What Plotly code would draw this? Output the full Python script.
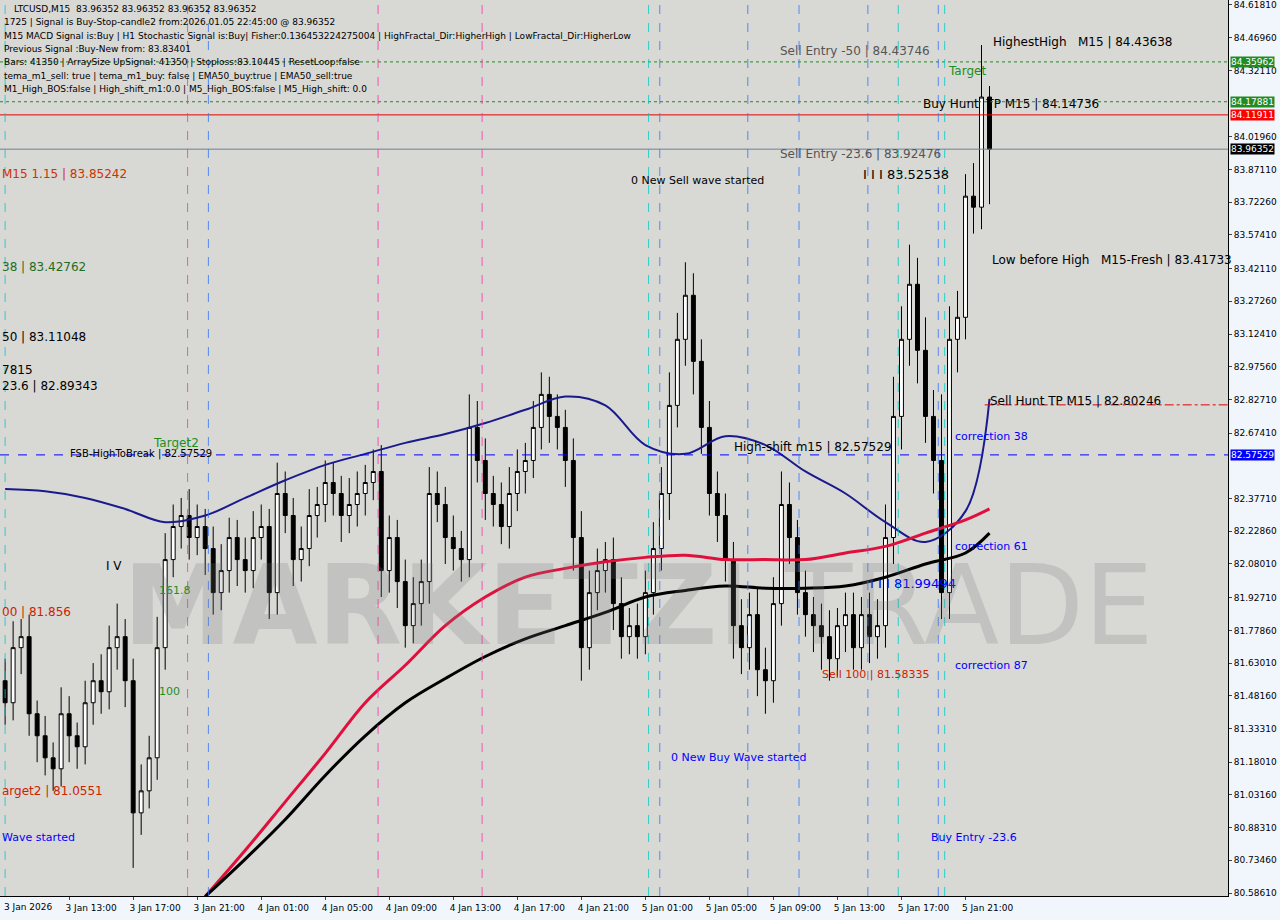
import pandas as pd
import plotly.graph_objects as go

# 30-minute bars, 3 Jan 2026 09:00 .. 5 Jan 22:30
start = pd.Timestamp("2026-01-03 09:00")
closes = [81.45, 81.70, 81.75, 81.40, 81.30, 81.20, 81.15, 81.40, 81.30, 81.25,
          81.45, 81.55, 81.50, 81.70, 81.75, 81.55, 80.95, 81.05, 81.20, 81.70,
          82.10, 82.25, 82.30, 82.20, 82.25, 82.15, 81.95, 82.05, 82.20, 82.10,
          82.05, 82.20, 82.25, 81.95, 82.40, 82.30, 82.10, 82.15, 82.30, 82.35,
          82.45, 82.40, 82.30, 82.35, 82.40, 82.45, 82.50, 82.05, 82.20, 82.00,
          81.80, 81.90, 82.00, 82.40, 82.35, 82.20, 82.15, 82.10, 82.70, 82.55,
          82.40, 82.35, 82.25, 82.40, 82.50, 82.55, 82.70, 82.85, 82.75, 82.70,
          82.55, 82.20, 81.70, 81.95, 82.05, 82.10, 81.90, 81.75, 81.80, 81.75,
          81.95, 82.15, 82.40, 82.80, 83.10, 83.30, 83.00, 82.70, 82.40, 82.30,
          82.10, 81.80, 81.70, 81.85, 81.60, 81.55, 81.90, 82.35, 82.20, 81.95,
          81.85, 81.80, 81.75, 81.65, 81.80, 81.85, 81.70, 81.85, 81.75, 81.80,
          82.20, 82.75, 83.10, 83.35, 83.05, 82.75, 82.55, 81.95, 83.10, 83.20,
          83.75, 83.70, 84.20, 83.96352]
open0 = 81.55
wick_up = [0.10, 0.12, 0.08, 0.10, 0.06, 0.09, 0.07, 0.12, 0.08, 0.06,
           0.10, 0.08, 0.12, 0.10, 0.15, 0.08, 0.10, 0.12, 0.10, 0.14,
           0.12, 0.10, 0.08, 0.12, 0.10, 0.08, 0.10, 0.12, 0.09, 0.08,
           0.10, 0.12, 0.10, 0.08, 0.14, 0.10, 0.08, 0.10, 0.12, 0.08,
           0.10, 0.09, 0.08, 0.12, 0.10, 0.08, 0.10, 0.12, 0.10, 0.08,
           0.10, 0.12, 0.10, 0.12, 0.10, 0.08, 0.10, 0.08, 0.15, 0.12,
           0.10, 0.08, 0.10, 0.12, 0.10, 0.08, 0.12, 0.10, 0.08, 0.10,
           0.08, 0.10, 0.12, 0.10, 0.10, 0.08, 0.10, 0.12, 0.08, 0.10,
           0.10, 0.12, 0.12, 0.15, 0.12, 0.15, 0.10, 0.10, 0.12, 0.10,
           0.10, 0.08, 0.12, 0.10, 0.12, 0.10, 0.12, 0.15, 0.10, 0.08,
           0.10, 0.08, 0.10, 0.12, 0.08, 0.10, 0.10, 0.08, 0.10, 0.12,
           0.15, 0.18, 0.15, 0.18, 0.12, 0.15, 0.12, 0.30, 0.15, 0.12,
           0.10, 0.15, 0.24, 0.05]
wick_dn = [0.10, 0.08, 0.12, 0.10, 0.12, 0.08, 0.10, 0.08, 0.12, 0.10,
           0.08, 0.10, 0.10, 0.08, 0.10, 0.12, 0.25, 0.10, 0.08, 0.10,
           0.10, 0.08, 0.10, 0.10, 0.08, 0.12, 0.10, 0.08, 0.10, 0.12,
           0.10, 0.08, 0.10, 0.12, 0.10, 0.08, 0.12, 0.10, 0.08, 0.10,
           0.08, 0.10, 0.12, 0.08, 0.10, 0.10, 0.08, 0.12, 0.10, 0.12,
           0.10, 0.08, 0.10, 0.10, 0.08, 0.12, 0.10, 0.10, 0.08, 0.10,
           0.12, 0.10, 0.08, 0.10, 0.08, 0.10, 0.08, 0.10, 0.12, 0.10,
           0.12, 0.15, 0.15, 0.10, 0.08, 0.10, 0.12, 0.10, 0.08, 0.10,
           0.08, 0.10, 0.10, 0.12, 0.10, 0.12, 0.15, 0.12, 0.10, 0.12,
           0.10, 0.15, 0.12, 0.10, 0.12, 0.15, 0.10, 0.10, 0.12, 0.10,
           0.10, 0.12, 0.15, 0.10, 0.08, 0.12, 0.10, 0.10, 0.12, 0.10,
           0.10, 0.12, 0.15, 0.12, 0.15, 0.12, 0.15, 0.12, 0.12, 0.15,
           0.10, 0.12, 0.10, 0.25]

# moving averages, one value every 2.5 hours (5 bars), from 3 Jan 09:00; last = last bar
ma_blue = [82.42, 82.41, 82.38, 82.33, 82.27, 82.30, 82.38, 82.46, 82.53,
           82.58, 82.63, 82.67, 82.72, 82.78, 82.84, 82.80, 82.62, 82.58,
           82.66, 82.62, 82.50, 82.40, 82.27, 82.18, 82.32, 82.83]
ma_red = [None, None, None, None, None, 80.57, 80.78, 81.00, 81.22, 81.45,
          81.62, 81.80, 81.93, 82.02, 82.06, 82.09, 82.11, 82.12, 82.10,
          82.10, 82.10, 82.13, 82.16, 82.22, 82.28, 82.33]
ma_black = [None, None, None, None, None, 80.57, 80.74, 80.92, 81.12, 81.30,
            81.45, 81.56, 81.66, 81.74, 81.80, 81.86, 81.93, 81.96, 81.98,
            81.97, 81.97, 81.98, 82.02, 82.08, 82.13, 82.22]

# horizontal levels: price, colour, dash
levels = [(84.35962, "#1e8f1e", "dot"), (84.17881, "#1e8f1e", "dot"),
          (84.11911, "#e00000", "solid"), (83.96352, "#708090", "solid"),
          (82.57529, "#0000ff", "dash")]
axis_boxes = [(84.35962, "#228b22"), (84.17881, "#228b22"), (84.11911, "#ff0000"),
              (83.96352, "#000000"), (82.57529, "#0000ff")]
yticks = [84.61810, 84.46960, 84.32110, 84.01960, 83.87110, 83.72260, 83.57410,
          83.42110, 83.27260, 83.12410, 82.97560, 82.82710, 82.67410, 82.37710,
          82.22860, 82.08010, 81.92710, 81.77860, 81.63010, 81.48160, 81.33310,
          81.18010, 81.03160, 80.88310, 80.73460, 80.58610]

# vertical markers: hours after start, colour
vlines = [(0.0, "#00cccc"), (11.4, "#ff33aa"), (12.7, "#3377ff"), (23.3, "#ff33aa"),
          (29.8, "#ff33aa"), (40.2, "#00cccc"), (40.9, "#3377ff"), (46.4, "#3377ff"),
          (49.6, "#3377ff"), (53.9, "#3377ff"), (55.8, "#00cccc"), (58.3, "#3377ff"),
          (58.7, "#00cccc")]

times = [start + pd.Timedelta(minutes=30 * i) for i in range(len(closes))]
opens = [open0] + closes[:-1]
highs = [max(o, c) + w for o, c, w in zip(opens, closes, wick_up)]
lows = [min(o, c) - w for o, c, w in zip(opens, closes, wick_dn)]
highs[122] = 84.43638
ma_times = [start + pd.Timedelta(minutes=150 * i) for i in range(len(ma_blue))]
ma_times[-1] = times[-1]


def t_at(h):
    return start + pd.Timedelta(hours=h)


fig = go.Figure()
fig.add_trace(go.Candlestick(
    x=times, open=opens, high=highs, low=lows, close=closes,
    increasing=dict(line=dict(color="black", width=1), fillcolor="white"),
    decreasing=dict(line=dict(color="black", width=1), fillcolor="black"),
    whiskerwidth=0, showlegend=False))
for ys, col, w in [(ma_blue, "#1a1a8c", 2), (ma_red, "#e0103c", 3), (ma_black, "black", 3)]:
    fig.add_trace(go.Scatter(x=ma_times, y=ys, mode="lines", line=dict(color=col, width=w, shape="spline"),
                             showlegend=False, hoverinfo="skip"))

for p, col, dash in levels:
    fig.add_hline(y=p, line=dict(color=col, width=1, dash=dash))
fig.add_shape(type="line", xref="x", x0=t_at(61.2), x1=t_at(80), y0=82.80246, y1=82.80246,
              line=dict(color="#e00000", width=1, dash="dashdot"))
for h, col in vlines:
    fig.add_vline(x=t_at(h), line=dict(color=col, width=1, dash="dash"), opacity=0.8)

for p, col in axis_boxes:
    fig.add_annotation(xref="paper", x=1.0, y=p, text=f"{p:.5f}", showarrow=False, xanchor="left",
                       xshift=2, bgcolor=col, font=dict(color="white", size=9), borderpad=0)

labels = [
    (61.6, 84.45, "HighestHigh   M15 | 84.43638", "black", 12),
    (48.3, 84.41, "Sell Entry -50 | 84.43746", "#555555", 12),
    (57.2, 84.17, "Buy Hunt  TP M15 | 84.14736", "black", 12),
    (48.3, 83.94, "Sell Entry -23.6 | 83.92476", "#555555", 12),
    (53.5, 83.85, "I I I 83.52538", "black", 13),
    (39.0, 83.82, "0 New Sell wave started", "black", 11),
    (61.5, 83.46, "Low before High   M15-Fresh | 83.41733", "black", 12),
    (61.4, 82.82, "Sell Hunt TP M15 | 82.80246", "black", 12),
    (45.4, 82.61, "High-shift m15 | 82.57529", "black", 12),
    (59.2, 82.66, "correction 38", "#0000ff", 11),
    (59.2, 82.16, "correction 61", "#0000ff", 11),
    (59.2, 81.62, "correction 87", "#0000ff", 11),
    (53.9, 81.99, "I I I 81.99494", "#0000ff", 13),
    (50.9, 81.58, "Sell 100 | 81.58335", "#cc2200", 11),
    (41.5, 81.20, "0 New Buy Wave started", "#0000ff", 11),
    (57.7, 80.84, "Buy Entry -23.6", "#0000ff", 11),
    (-0.3, 83.85, "M15 1.15 | 83.85242", "#cc3300", 12),
    (-0.3, 83.43, "38 | 83.42762", "#1e6e1e", 12),
    (-0.3, 83.11, "50 | 83.11048", "black", 12),
    (-0.3, 82.96, "7815", "black", 12),
    (-0.3, 82.89, "23.6 | 82.89343", "black", 12),
    (3.9, 82.58, "FSB-HighToBreak | 82.57529", "black", 10),
    (9.1, 82.63, "Target2", "#1e8f1e", 12),
    (-0.3, 81.86, "00 | 81.856", "#cc2200", 12),
    (-0.3, 81.05, "arget2 | 81.0551", "#cc2200", 12),
    (-0.3, 80.84, "Wave started", "#0000ff", 11),
    (9.5, 81.96, "161.8", "#1e8f1e", 11),
    (9.5, 81.50, "100", "#1e8f1e", 11),
    (6.2, 82.07, "I V", "black", 12),
    (58.8, 84.32, "Target", "#1e8f1e", 12),
]
for h, p, txt, col, sz in labels:
    fig.add_annotation(x=t_at(h), y=p, text=txt, showarrow=False, xanchor="left",
                       font=dict(color=col, size=sz))

info = ["LTCUSD,M15  83.96352 83.96352 83.96352 83.96352",
        "1725 | Signal is Buy-Stop-candle2 from:2026.01.05 22:45:00 @ 83.96352",
        "M15 MACD Signal is:Buy | H1 Stochastic Signal is:Buy| Fisher:0.136453224275004 | HighFractal_Dir:HigherHigh | LowFractal_Dir:HigherLow",
        "Previous Signal :Buy-New from: 83.83401",
        "Bars: 41350 | ArraySize UpSignal: 41350 | Stoploss:83.10445 | ResetLoop:false",
        "tema_m1_sell: true | tema_m1_buy: false | EMA50_buy:true | EMA50_sell:true",
        "M1_High_BOS:false | High_shift_m1:0.0 | M5_High_BOS:false | M5_High_shift: 0.0"]
for i, line in enumerate(info):
    fig.add_annotation(xref="paper", yref="paper", x=0.002 if i else 0.01, y=1 - (2 + 13.3 * i) / 896,
                       text=line, showarrow=False, xanchor="left", yanchor="top",
                       font=dict(size=9, color="black"))

fig.add_annotation(xref="paper", yref="paper", x=0.52, y=0.25, text="<b>MARKETZ</b>I TRADE",
                   showarrow=False, font=dict(size=110, color="rgba(120,120,120,0.22)"))

xticks = [start + pd.Timedelta(hours=4 * i) for i in range(1, 16)]
xtext = [t.strftime("%-d %b %H:%M") for t in xticks]
fig.add_annotation(xref="paper", yref="paper", x=0.002, y=0, yanchor="top", yshift=-4,
                   text="3 Jan 2026", showarrow=False, xanchor="left", font=dict(size=9))

fig.update_layout(
    width=1280, height=920, margin=dict(l=0, r=52, t=0, b=24, autoexpand=False),
    paper_bgcolor="#f0f6fc", plot_bgcolor="#d8d8d5",
    font=dict(family="DejaVu Sans", size=9, color="black"),
    xaxis=dict(rangeslider=dict(visible=False), range=[t_at(-0.32), t_at(76.4)],
               tickvals=xticks, ticktext=xtext, showgrid=False, ticks="outside", ticklen=3,
               ticklabelshift=22, showline=True, linecolor="black", mirror=True),
    yaxis=dict(side="right", range=[80.5725, 84.6407], tickvals=yticks,
               ticktext=[f"{v:.5f}" for v in yticks], showgrid=False, ticks="outside",
               ticklen=3, showline=True, linecolor="black", mirror=True),
)
fig.write_html("out.html", config={"displayModeBar": False})

# drop the browser's default page margin so the chart fills the window
with open("out.html", encoding="utf-8") as f:
    html = f.read()
html = html.replace("<body>", '<body style="margin:0">', 1)
with open("out.html", "w", encoding="utf-8") as f:
    f.write(html)
